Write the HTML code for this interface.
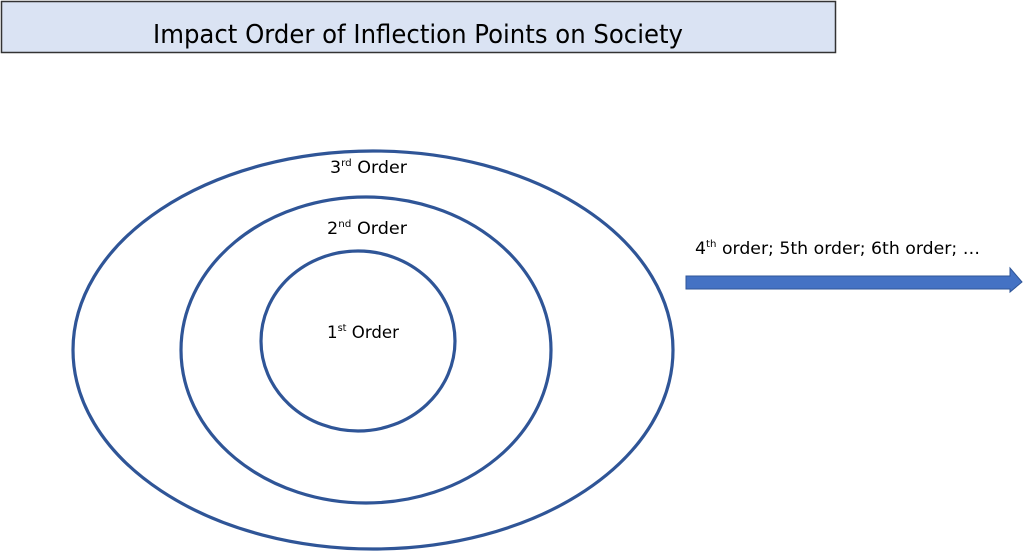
<!DOCTYPE html>
<html><head><meta charset="utf-8"><style>
html,body{margin:0;padding:0;background:#fff;}
svg{display:block;}
text{font-family:"DejaVu Sans","Liberation Sans",sans-serif;fill:#000;}
</style></head><body>
<svg width="1023" height="551" viewBox="0 0 1023 551" xmlns="http://www.w3.org/2000/svg">
<rect x="1.5" y="1.5" width="834" height="51" fill="#dae3f3" stroke="#333" stroke-width="1.5"/>
<text x="153" y="43" font-size="26" textLength="530" lengthAdjust="spacingAndGlyphs">Impact Order of Inflection Points on Society</text>
<ellipse cx="373" cy="350" rx="300" ry="199" fill="none" stroke="#2f5597" stroke-width="3.2"/>
<ellipse cx="366" cy="350" rx="185" ry="153" fill="none" stroke="#2f5597" stroke-width="3.2"/>
<ellipse cx="358" cy="341" rx="97" ry="90" fill="none" stroke="#2f5597" stroke-width="3.2"/>
<text x="330" y="173" font-size="17" textLength="77" lengthAdjust="spacingAndGlyphs">3<tspan font-size="10" dy="-7">rd</tspan><tspan dy="7"> Order</tspan></text>
<text x="327" y="234" font-size="17" textLength="80" lengthAdjust="spacingAndGlyphs">2<tspan font-size="10" dy="-7">nd</tspan><tspan dy="7"> Order</tspan></text>
<text x="327" y="338" font-size="17" textLength="72" lengthAdjust="spacingAndGlyphs">1<tspan font-size="10" dy="-7">st</tspan><tspan dy="7"> Order</tspan></text>
<text x="695" y="254" font-size="17" textLength="285" lengthAdjust="spacingAndGlyphs">4<tspan font-size="10" dy="-7">th</tspan><tspan dy="7"> order; 5th order; 6th order; …</tspan></text>
<polygon points="686,276 1010,276 1010,268 1022,282 1010,292 1010,289 686,289" fill="#4472c4" stroke="#2f5597" stroke-width="1"/>
</svg>
</body></html>
